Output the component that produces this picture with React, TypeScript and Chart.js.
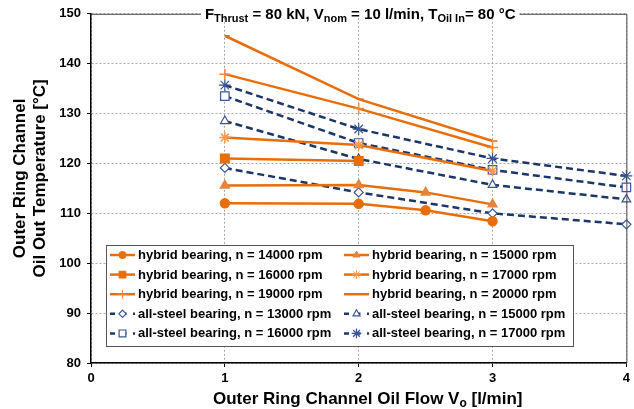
import React, { useEffect, useRef } from "react";
import { Chart, registerables } from "chart.js";
import { drawPoint } from "chart.js/helpers";

Chart.register(...registerables);

// Oil flow through the outer ring channel [l/min]
const flowHybrid14000 = [1, 2, 2.5, 3];
const flowHybrid15000 = [1, 2, 2.5, 3];
const flowHybrid16000 = [1, 2];
const flowHybrid17000 = [1, 2, 3];
const flowHybrid19000 = [1, 2, 3];
const flowHybrid20000 = [1, 2, 3];
const flowSteel = [1, 2, 3, 4];

// Outer ring channel oil-out temperature [°C]
const tempHybrid14000 = [112.0, 111.9, 110.6, 108.4];
const tempHybrid15000 = [115.6, 115.7, 114.2, 111.8];
const tempHybrid16000 = [121.0, 120.5];
const tempHybrid17000 = [125.2, 123.7, 118.5];
const tempHybrid19000 = [137.9, 131.0, 123.2];
const tempHybrid20000 = [145.6, 132.9, 124.5];
const tempSteel13000 = [119.1, 114.2, 110.0, 107.8];
const tempSteel15000 = [128.5, 120.9, 115.7, 112.8];
const tempSteel16000 = [133.5, 124.1, 118.7, 115.2];
const tempSteel17000 = [135.7, 126.9, 121.0, 117.5];

const seriesLabels = [
  "hybrid bearing, n = 14000 rpm",
  "hybrid bearing, n = 15000 rpm",
  "hybrid bearing, n = 16000 rpm",
  "hybrid bearing, n = 17000 rpm",
  "hybrid bearing, n = 19000 rpm",
  "hybrid bearing, n = 20000 rpm",
  "all-steel bearing, n = 13000 rpm",
  "all-steel bearing, n = 15000 rpm",
  "all-steel bearing, n = 16000 rpm",
  "all-steel bearing, n = 17000 rpm",
];

const xTicks = [0, 1, 2, 3, 4];
const yTicks = [80, 90, 100, 110, 120, 130, 140, 150];

const FONT = "'Liberation Sans', Arial, sans-serif";
const ORANGE = "#E86E0C";
const NAVY = "#1C3668";
const NAVY_MARK = "#3A5694";

const toPoints = (xs: number[], ys: number[]) => xs.map((x, i) => ({ x, y: ys[i] }));

type Style = {
  pointStyle: string;
  radius: number;
  fill: string;
  stroke: string;
  steel: boolean;
};

const styles: Style[] = [
  { pointStyle: "circle", radius: 4.5, fill: ORANGE, stroke: ORANGE, steel: false },
  { pointStyle: "triangle", radius: 5, fill: "#E5843E", stroke: "#E5843E", steel: false },
  { pointStyle: "rect", radius: 6, fill: ORANGE, stroke: ORANGE, steel: false },
  { pointStyle: "star", radius: 5.5, fill: "#F29A5A", stroke: "#F29A5A", steel: false },
  { pointStyle: "cross", radius: 5.5, fill: "#F08A40", stroke: "#F08A40", steel: false },
  { pointStyle: "dash", radius: 5, fill: ORANGE, stroke: ORANGE, steel: false },
  { pointStyle: "rectRot", radius: 4.5, fill: "#ffffff", stroke: NAVY_MARK, steel: true },
  { pointStyle: "triangle", radius: 5, fill: "#ffffff", stroke: NAVY_MARK, steel: true },
  { pointStyle: "rect", radius: 6, fill: "#ffffff", stroke: NAVY_MARK, steel: true },
  { pointStyle: "star", radius: 6, fill: "#ffffff", stroke: NAVY_MARK, steel: true },
];

const seriesData = [
  toPoints(flowHybrid14000, tempHybrid14000),
  toPoints(flowHybrid15000, tempHybrid15000),
  toPoints(flowHybrid16000, tempHybrid16000),
  toPoints(flowHybrid17000, tempHybrid17000),
  toPoints(flowHybrid19000, tempHybrid19000),
  toPoints(flowHybrid20000, tempHybrid20000),
  toPoints(flowSteel, tempSteel13000),
  toPoints(flowSteel, tempSteel15000),
  toPoints(flowSteel, tempSteel16000),
  toPoints(flowSteel, tempSteel17000),
];

type Seg = { t: string; sub?: boolean };

function measureRich(ctx: CanvasRenderingContext2D, segs: Seg[], size: number, subSize: number) {
  let total = 0;
  for (const s of segs) {
    ctx.font = `bold ${s.sub ? subSize : size}px ${FONT}`;
    total += ctx.measureText(s.t).width;
  }
  return total;
}

function drawRich(ctx: CanvasRenderingContext2D, segs: Seg[], cx: number, baseline: number, size: number, subSize: number, subDrop: number) {
  const total = measureRich(ctx, segs, size, subSize);
  let x = cx - total / 2;
  ctx.textAlign = "left";
  ctx.textBaseline = "alphabetic";
  for (const s of segs) {
    ctx.font = `bold ${s.sub ? subSize : size}px ${FONT}`;
    ctx.fillText(s.t, x, baseline + (s.sub ? subDrop : 0));
    x += ctx.measureText(s.t).width;
  }
}

const decorations = {
  id: "decorations",
  afterDraw(chart: any) {
    const ctx: CanvasRenderingContext2D = chart.ctx;
    const { left, right, top, bottom } = chart.chartArea;
    ctx.save();

    // plot frame (top and right)
    ctx.strokeStyle = "#4a4a4a";
    ctx.lineWidth = 1;
    ctx.beginPath();
    ctx.moveTo(left, top + 0.5);
    ctx.lineTo(right + 0.5, top + 0.5);
    ctx.lineTo(right + 0.5, bottom);
    ctx.stroke();

    // operating conditions heading
    const head: Seg[] = [
      { t: "F" }, { t: "Thrust", sub: true }, { t: " = 80 kN, V" }, { t: "nom", sub: true },
      { t: " = 10 l/min, T" }, { t: "Oil In", sub: true }, { t: "= 80 °C" },
    ];
    const cx = (left + right) / 2 + 1.5;
    const w = measureRich(ctx, head, 15, 11);
    ctx.fillStyle = "#ffffff";
    ctx.fillRect(cx - w / 2 - 4, top - 2, w + 8, 6);
    ctx.fillStyle = "#000000";
    drawRich(ctx, head, cx, 19, 15, 11, 3);

    // axis titles
    drawRich(ctx, [{ t: "Outer Ring Channel Oil Flow V" }, { t: "o", sub: true }, { t: " [l/min]" }], (left + right) / 2 + 9, 404, 17, 12, 3);
    ctx.save();
    ctx.translate(0, (top + bottom) / 2 - 10);
    ctx.rotate(-Math.PI / 2);
    ctx.font = `bold 17px ${FONT}`;
    ctx.textAlign = "center";
    ctx.textBaseline = "middle";
    ctx.fillText("Outer Ring Channel", 0, 20);
    ctx.fillText("Oil Out Temperature [°C]", 0, 40);
    ctx.restore();

    // legend
    const bx = 106, by = 245, bw = 467, bh = 101;
    ctx.fillStyle = "#ffffff";
    ctx.fillRect(bx, by, bw, bh);
    ctx.strokeStyle = "#555555";
    ctx.lineWidth = 1;
    ctx.strokeRect(bx + 0.5, by + 0.5, bw, bh);
    ctx.font = `bold 13px ${FONT}`;
    ctx.textBaseline = "middle";
    ctx.textAlign = "left";
    seriesLabels.forEach((label, i) => {
      const col = i % 2;
      const row = Math.floor(i / 2);
      const x0 = col === 0 ? 110 : 344;
      const y0 = 255 + row * 19.6;
      const st = styles[i];
      ctx.save();
      ctx.lineWidth = 2.5;
      ctx.strokeStyle = st.steel ? NAVY : ORANGE;
      if (st.steel) ctx.setLineDash([5, 6.5]);
      ctx.beginPath();
      ctx.moveTo(x0, y0);
      ctx.lineTo(x0 + 25, y0);
      ctx.stroke();
      ctx.setLineDash([]);
      ctx.fillStyle = st.fill;
      ctx.strokeStyle = st.stroke;
      ctx.lineWidth = st.steel ? 1.2 : 1;
      drawPoint(ctx, { pointStyle: st.pointStyle as any, radius: st.radius * 0.8, rotation: 0, borderWidth: ctx.lineWidth } as any, x0 + 12.5, y0);
      ctx.restore();
      ctx.fillStyle = "#000000";
      ctx.fillText(label, x0 + 28, y0 + 0.5);
    });

    ctx.restore();
  },
};

export default function App() {
  const ref = useRef<HTMLCanvasElement | null>(null);

  useEffect(() => {
    if (!ref.current) return;
    const datasets = seriesData.map((data, i) => {
      const st = styles[i];
      return {
        label: seriesLabels[i],
        data,
        showLine: true,
        borderColor: st.steel ? NAVY : ORANGE,
        borderWidth: 2.5,
        borderDash: st.steel ? [7, 4] : [],
        pointStyle: st.pointStyle,
        pointRadius: st.radius,
        pointBackgroundColor: st.fill,
        pointBorderColor: st.stroke,
        pointBorderWidth: st.steel ? 1.2 : 1.5,
        clip: false,
      };
    });

    const chart = new Chart(ref.current, {
      type: "scatter",
      data: { datasets: datasets as any },
      plugins: [decorations],
      options: {
        animation: false,
        responsive: false,
        layout: { padding: { top: 11, right: 5, left: 0, bottom: 0 } },
        plugins: { legend: { display: false }, tooltip: { enabled: false } },
        scales: {
          x: {
            type: "linear",
            min: xTicks[0],
            max: xTicks[xTicks.length - 1],
            afterFit: (s: any) => { s.height = 46; },
            afterBuildTicks: (s: any) => { s.ticks = xTicks.map((v) => ({ value: v })); },
            ticks: { color: "#000", font: { family: FONT, size: 13, weight: "bold" }, padding: 4 },
            grid: { color: "#a8a8a8", lineWidth: 1, tickLength: 4, tickColor: "#000", tickBorderDash: [] },
            border: { color: "#000", width: 1.5, dash: [2, 2] },
          },
          y: {
            type: "linear",
            min: yTicks[0],
            max: yTicks[yTicks.length - 1],
            afterFit: (s: any) => { s.width = 91; },
            afterBuildTicks: (s: any) => { s.ticks = yTicks.map((v) => ({ value: v })); },
            ticks: { color: "#000", font: { family: FONT, size: 13, weight: "bold" }, padding: 6 },
            grid: { color: "#a8a8a8", lineWidth: 1, tickLength: 4, tickColor: "#000", tickBorderDash: [] },
            border: { color: "#000", width: 1.5, dash: [2, 2] },
          },
        },
      },
    });
    return () => chart.destroy();
  }, []);

  return (
    <div style={{ position: "fixed", left: 0, top: 0, width: 634, height: 409, background: "#fff" }}>
      <canvas ref={ref} width={634} height={409} style={{ display: "block", width: 634, height: 409 }} />
    </div>
  );
}
